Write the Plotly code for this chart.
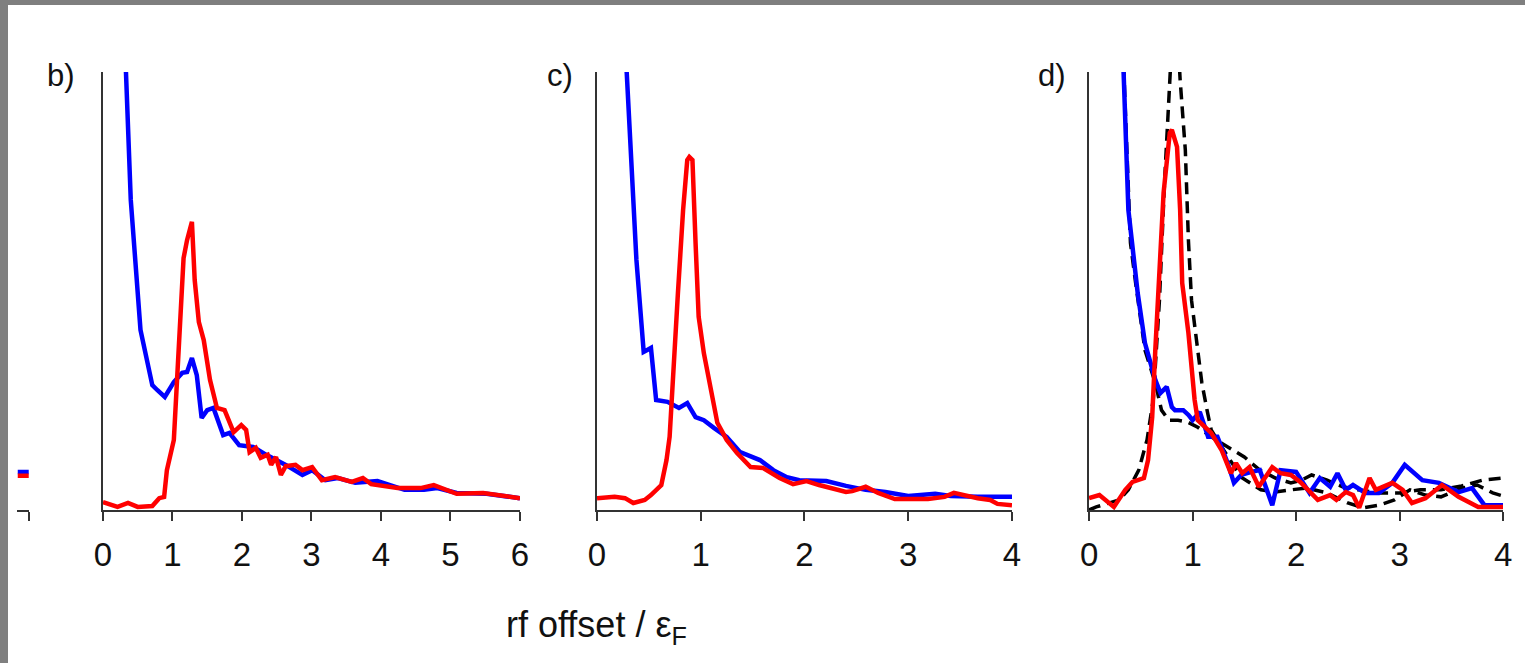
import plotly.graph_objects as go

# ---------------- data (arbitrary units, normalized to panel height) ----------------
# panel b
b_blue_x = [0.30, 0.33, 0.40, 0.54, 0.71, 0.78, 0.89, 1.02, 1.14, 1.21, 1.28, 1.35, 1.42, 1.50, 1.59,
            1.73, 1.82, 1.96, 2.16, 2.35, 2.50, 2.63, 2.87, 3.01, 3.20, 3.38, 3.63, 3.95, 4.34, 4.62,
            4.81, 5.09, 5.52, 6.00]
b_blue_y = [1.13, 1.00, 0.708, 0.411, 0.285, 0.274, 0.258, 0.292, 0.313, 0.315, 0.347, 0.308, 0.210,
            0.228, 0.233, 0.171, 0.176, 0.148, 0.144, 0.126, 0.114, 0.103, 0.080, 0.091, 0.068, 0.073,
            0.062, 0.066, 0.046, 0.046, 0.050, 0.039, 0.037, 0.027]
b_red_x = [0.00, 0.21, 0.36, 0.50, 0.71, 0.81, 0.88, 0.92, 1.02, 1.07, 1.16, 1.21, 1.28, 1.32, 1.38,
           1.45, 1.54, 1.64, 1.75, 1.88, 1.99, 2.06, 2.11, 2.20, 2.27, 2.37, 2.42, 2.49, 2.56, 2.63,
           2.77, 2.87, 3.01, 3.15, 3.34, 3.58, 3.74, 3.86, 4.24, 4.57, 4.76, 5.09, 5.47, 6.00]
b_red_y = [0.018, 0.007, 0.016, 0.007, 0.009, 0.027, 0.030, 0.091, 0.160, 0.297, 0.575, 0.616, 0.658,
           0.525, 0.429, 0.388, 0.297, 0.233, 0.228, 0.178, 0.194, 0.183, 0.132, 0.142, 0.119, 0.126,
           0.103, 0.121, 0.080, 0.100, 0.103, 0.091, 0.098, 0.068, 0.075, 0.064, 0.073, 0.059, 0.050,
           0.050, 0.057, 0.037, 0.039, 0.027]

# panel c
c_blue_x = [0.26, 0.286, 0.33, 0.38, 0.45, 0.52, 0.57, 0.68, 0.79, 0.87, 0.95, 1.03, 1.13, 1.25, 1.38,
            1.51, 1.57, 1.70, 1.83, 1.95, 2.21, 2.40, 2.59, 2.78, 3.00, 3.26, 3.41, 3.67, 4.00]
c_blue_y = [1.12, 1.00, 0.799, 0.571, 0.361, 0.370, 0.251, 0.247, 0.233, 0.244, 0.212, 0.205, 0.187,
            0.167, 0.132, 0.121, 0.114, 0.091, 0.075, 0.068, 0.066, 0.055, 0.046, 0.041, 0.032, 0.037,
            0.032, 0.030, 0.030]
c_red_x = [0.00, 0.17, 0.27, 0.35, 0.46, 0.52, 0.62, 0.67, 0.70, 0.73, 0.78, 0.83, 0.87, 0.89, 0.92,
           0.95, 0.98, 1.03, 1.10, 1.16, 1.25, 1.35, 1.48, 1.60, 1.76, 1.89, 2.02, 2.14, 2.40, 2.46,
           2.59, 2.71, 2.87, 3.19, 3.35, 3.44, 3.67, 3.79, 3.86, 4.00]
c_red_y = [0.027, 0.030, 0.027, 0.016, 0.023, 0.034, 0.057, 0.114, 0.167, 0.304, 0.495, 0.685, 0.799,
           0.806, 0.799, 0.610, 0.441, 0.358, 0.267, 0.199, 0.160, 0.130, 0.098, 0.096, 0.073, 0.059,
           0.066, 0.057, 0.041, 0.043, 0.053, 0.039, 0.025, 0.025, 0.030, 0.039, 0.027, 0.023, 0.014,
           0.011]

# panel d
d_blue_x = [0.31, 0.334, 0.38, 0.47, 0.54, 0.64, 0.69, 0.75, 0.80, 0.83, 0.91, 0.96, 1.00, 1.07, 1.15,
            1.24, 1.34, 1.40, 1.47, 1.57, 1.65, 1.77, 1.85, 2.00, 2.13, 2.23, 2.33, 2.40, 2.48, 2.55,
            2.67, 2.80, 2.93, 3.05, 3.22, 3.38, 3.57, 3.70, 3.82, 4.00]
d_blue_y = [1.16, 1.00, 0.685, 0.495, 0.381, 0.297, 0.267, 0.281, 0.235, 0.228, 0.228, 0.217, 0.205,
            0.224, 0.167, 0.167, 0.107, 0.062, 0.080, 0.087, 0.091, 0.011, 0.091, 0.087, 0.039, 0.073,
            0.053, 0.084, 0.046, 0.057, 0.039, 0.039, 0.062, 0.103, 0.068, 0.062, 0.041, 0.050, 0.011,
            0.011]
d_red_x = [0.00, 0.10, 0.24, 0.35, 0.42, 0.53, 0.57, 0.61, 0.64, 0.72, 0.78, 0.80, 0.85, 0.88, 0.90,
           0.96, 1.02, 1.05, 1.18, 1.28, 1.37, 1.42, 1.48, 1.55, 1.64, 1.77, 1.85, 1.95, 2.04, 2.14,
           2.21, 2.33, 2.39, 2.48, 2.55, 2.61, 2.71, 2.77, 2.93, 3.03, 3.12, 3.25, 3.41, 3.57, 3.76,
           4.00]
d_red_y = [0.027, 0.034, 0.007, 0.046, 0.064, 0.073, 0.114, 0.212, 0.365, 0.724, 0.861, 0.868, 0.829,
           0.685, 0.518, 0.404, 0.251, 0.205, 0.176, 0.137, 0.084, 0.107, 0.084, 0.098, 0.053, 0.098,
           0.084, 0.080, 0.064, 0.041, 0.023, 0.034, 0.023, 0.041, 0.034, 0.005, 0.073, 0.046, 0.062,
           0.046, 0.016, 0.027, 0.057, 0.030, 0.007, 0.007]
# theory curves (dashed) in panel d
d_theo1_x = [0.32, 0.40, 0.45, 0.54, 0.64, 0.70, 0.77, 0.86, 0.95, 1.05, 1.18, 1.34, 1.50, 1.65, 1.80,
             1.95, 2.05, 2.15, 2.30, 2.45, 2.60, 2.80, 3.00, 3.20, 3.40, 3.60, 3.80, 4.00]
d_theo1_y = [1.10, 0.610, 0.518, 0.365, 0.290, 0.228, 0.205, 0.205, 0.201, 0.189, 0.167, 0.144, 0.121,
             0.091, 0.073, 0.062, 0.068, 0.080, 0.068, 0.053, 0.046, 0.039, 0.039, 0.046, 0.046, 0.055,
             0.068, 0.073]
d_theo2_x = [0.00, 0.07, 0.29, 0.38, 0.48, 0.56, 0.62, 0.68, 0.73, 0.77, 0.80, 0.83, 0.86, 0.88, 0.91,
             0.93, 0.96, 0.99, 1.05, 1.09, 1.14, 1.18, 1.30, 1.47, 1.66, 1.80, 1.95, 2.10, 2.30, 2.50,
             2.65, 2.80, 2.95, 3.10, 3.25, 3.40, 3.60, 3.75, 3.90, 4.00]
d_theo2_y = [0.000, 0.007, 0.023, 0.046, 0.091, 0.160, 0.251, 0.479, 0.753, 0.959, 1.07, 1.12, 1.07,
             0.982, 0.897, 0.822, 0.616, 0.479, 0.365, 0.290, 0.228, 0.183, 0.137, 0.075, 0.046, 0.041,
             0.046, 0.050, 0.039, 0.016, 0.005, 0.011, 0.023, 0.046, 0.034, 0.030, 0.050, 0.057, 0.039,
             0.032]

# fragment of panel a (cut off at the left edge)
a_x = [5.80, 6.00]
a_blue_y = [0.087, 0.087]
a_red_y = [0.078, 0.078]

b_ticks = [0, 1, 2, 3, 4, 5, 6]
cd_ticks = [0, 1, 2, 3, 4]
panel_labels = ["b)", "c)", "d)"]
x_title = "rf offset / ε<sub>F</sub>"

# ---------------- figure ----------------
# The page keeps the browser's 8px body margin, so the figure is 16px smaller than the window
# and sits at (8, 8); reference pixel positions are mapped into figure coordinates.
VW, VH = 1525, 663
OFF = 8
W, H = VW - 2 * OFF, VH - 2 * OFF
BLUE, RED = "#0000ff", "#ff0000"
AX = "#333333"
FONT = "Liberation Sans, Arial, sans-serif"


def px(xp):
    return (xp - OFF) / W


def py(yp):
    return (H - (yp - OFF)) / H


fig = go.Figure()


def line(x, y, color, ax, dash=None, width=4.5):
    fig.add_trace(go.Scatter(x=x, y=y, mode="lines", xaxis=ax[0], yaxis=ax[1],
                             line=dict(color=color, width=width, dash=dash),
                             hoverinfo="skip", showlegend=False))


line(a_x, a_blue_y, BLUE, ("x4", "y4"))
line(a_x, a_red_y, RED, ("x4", "y4"))
line(b_blue_x, b_blue_y, BLUE, ("x", "y"))
line(b_red_x, b_red_y, RED, ("x", "y"))
line(c_blue_x, c_blue_y, BLUE, ("x2", "y2"))
line(c_red_x, c_red_y, RED, ("x2", "y2"))
line(d_theo1_x, d_theo1_y, "black", ("x3", "y3"), dash="12px,7px", width=3.5)
line(d_theo2_x, d_theo2_y, "black", ("x3", "y3"), dash="12px,7px", width=3.5)
line(d_blue_x, d_blue_y, BLUE, ("x3", "y3"))
line(d_red_x, d_red_y, RED, ("x3", "y3"))

ydom = [py(510), py(72)]


def xaxis(dom, rng, ticks, anchor, labels=True):
    return dict(domain=dom, range=rng, anchor=anchor, showline=True, linecolor=AX, linewidth=1.5,
                ticks="outside", ticklen=9, tickwidth=1.5, tickcolor=AX, tickvals=ticks,
                showticklabels=labels, showgrid=False, zeroline=False, fixedrange=True,
                tickfont=dict(family=FONT, size=33, color="#111111"), ticklabelstandoff=6)


def yaxis(anchor, showline=True):
    return dict(domain=ydom, range=[0, 1.0], anchor=anchor, showline=showline, linecolor=AX,
                linewidth=1.5, ticks="", showticklabels=False, showgrid=False, zeroline=False,
                fixedrange=True)


fig.update_layout(
    width=W, height=H, margin=dict(l=0, r=0, t=0, b=0),
    paper_bgcolor="white", plot_bgcolor="rgba(0,0,0,0)",
    xaxis=xaxis([px(95), px(517)], [0, 6], b_ticks, "y"),
    yaxis=yaxis("x"),
    xaxis2=xaxis([px(595), px(1015)], [0, 4], cd_ticks, "y2"),
    yaxis2=yaxis("x2"),
    xaxis3=xaxis([px(1093), px(1512)], [0, 4], cd_ticks, "y3"),
    yaxis3=yaxis("x3"),
    xaxis4=xaxis([px(8.5), px(20)], [5.8, 6.0], [6], "y4", labels=False),
    yaxis4=yaxis("x4", showline=False),
    showlegend=False,
)

# panel labels
for lab, xl in zip(panel_labels, [53, 558, 1055]):
    fig.add_annotation(text=lab, x=px(xl), y=py(75), xref="paper", yref="paper",
                       showarrow=False, xanchor="center", yanchor="middle",
                       font=dict(family=FONT, size=31, color="#111111"))

# shared x-axis title
fig.add_annotation(text=x_title, x=px(594), y=py(627), xref="paper", yref="paper",
                   showarrow=False, xanchor="center", yanchor="middle",
                   font=dict(family=FONT, size=36, color="#111111"))

# grey frame of the screenshot (top 5px, left 8px) painted on the page background
post = (
    "document.body.style.background="
    "'linear-gradient(#7f7f7f, #7f7f7f) 0 0 / 100% 5px no-repeat,"
    " linear-gradient(#7f7f7f, #7f7f7f) 0 0 / 8px 100% no-repeat, white';"
)
fig.write_html("out.html", config={"displayModeBar": False}, post_script=post)
